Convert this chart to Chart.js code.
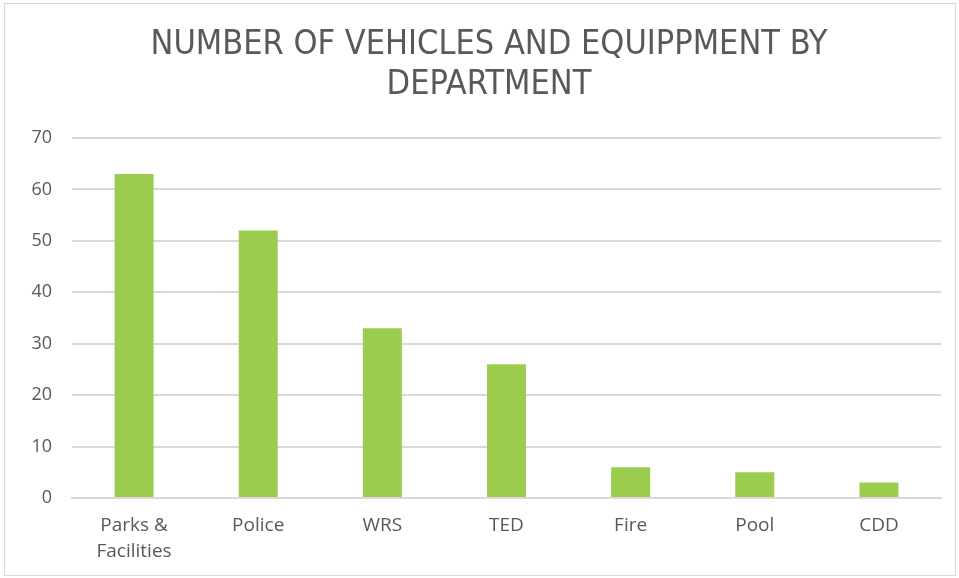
<!DOCTYPE html>
<html>
<head>
<meta charset="utf-8">
<script src="https://cdn.jsdelivr.net/npm/chart.js@4/dist/chart.umd.min.js"></script>
<style>
  body { margin: 0; background: #fff; }
  #frame { position: absolute; left: 4px; top: 3px; width: 950px; height: 571px; border: 1px solid #d9d9d9; }
  #myChart { position: absolute; left: 0; top: 0; }
</style>
</head>
<body>
<div id="frame"></div>
<canvas id="myChart" width="959" height="578"></canvas>
<script>
// vehicles and equipment per department
let departments = [["Parks &", "Facilities"], "Police", "WRS", "TED", "Fire", "Pool", "CDD"];
let vehicleCounts = [63, 52, 33, 26, 6, 5, 3];
let yTicks = [0, 10, 20, 30, 40, 50, 60, 70];
let titleLines = ["NUMBER OF VEHICLES AND EQUIPPMENT BY", "DEPARTMENT"];

let textGray = "#595959";
let gridGray = "#d9d9d9";
let barGreen = "#9bcc4e";

// title drawn by hand so it can sit centred on the frame, not the padded box
let titlePlugin = {
    id : "frameTitle",
    afterDraw : function (chart) {
        let c = chart.ctx;
        c.save();
        c.fillStyle = textGray;
        c.font = "34px 'Liberation Sans Narrow', 'DejaVu Sans Condensed', sans-serif";
        c.textAlign = "center";
        c.textBaseline = "middle";
        for (let i = 0; i < titleLines.length; i++) {
            c.fillText(titleLines[i], 489, 45 + i * 40);
        }
        c.restore();
    }
};

let ctx = document.getElementById("myChart").getContext("2d");
let myChart = new Chart(ctx, {
    type : "bar",
    data : {
        labels : departments,
        datasets : [{
            label : "Count",
            data : vehicleCounts,
            backgroundColor : barGreen,
            borderWidth : 0,
            categoryPercentage : 1,
            barPercentage : 0.314
        }]
    },
    options : {
        responsive : false,
        animation : false,
        layout : { padding : { left : 0, right : 18, top : 138, bottom : 0 } },
        plugins : {
            legend : { display : false },
            tooltip : { enabled : false },
            title : { display : false }
        },
        scales : {
            x : {
                grid : { display : false, drawTicks : false },
                border : { display : true, color : gridGray, width : 2 },
                ticks : {
                    color : textGray,
                    padding : 15,
                    maxRotation : 0,
                    autoSkip : false,
                    font : { family : "'Open Sans', sans-serif", size : 19, lineHeight : 1.35 }
                },
                afterFit : function (scale) { scale.height = 80; }
            },
            y : {
                min : 0,
                max : 70,
                afterBuildTicks : function (scale) {
                    scale.ticks = yTicks.map(function (v) { return { value : v }; });
                },
                grid : { color : gridGray, lineWidth : 2, drawTicks : false },
                border : { display : false },
                ticks : {
                    color : textGray,
                    padding : 20,
                    font : { family : "'Open Sans', sans-serif", size : 18 }
                },
                afterFit : function (scale) { scale.width = 72; }
            }
        }
    },
    plugins : [titlePlugin]
});
</script>
</body>
</html>
